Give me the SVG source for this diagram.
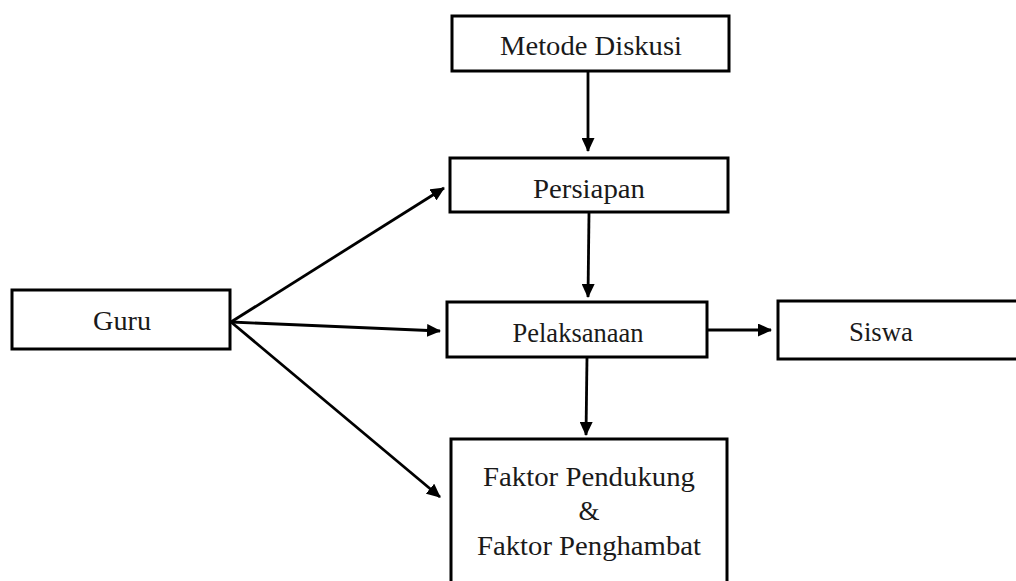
<svg xmlns="http://www.w3.org/2000/svg" width="1016" height="581" viewBox="0 0 1016 581">
<style>
.box{fill:#fff;stroke:#000;stroke-width:3}
text{font-family:'Liberation Serif','DejaVu Serif','Times New Roman',serif;font-size:27px;fill:#1a1a1a;text-anchor:middle}
.con{stroke:#000;stroke-width:2.8;fill:none;marker-end:url(#ah)}
</style>
<defs>
<marker id="ah" markerUnits="userSpaceOnUse" markerWidth="14" markerHeight="13" refX="13" refY="6.5" orient="auto">
<path d="M0,0 L14,6.5 L0,13 Z" fill="#000"/>
</marker>
</defs>
<rect width="1016" height="581" fill="#fff"/>
<g id="connectors">
<line class="con" x1="588" y1="71" x2="588" y2="151"/>
<line class="con" x1="589" y1="213" x2="588" y2="297"/>
<line class="con" x1="587" y1="357" x2="586" y2="435"/>
<line class="con" x1="707" y1="330" x2="771" y2="330"/>
<line class="con" x1="231" y1="322" x2="444" y2="188"/>
<line class="con" x1="231" y1="322" x2="440" y2="331"/>
<line class="con" x1="231" y1="322" x2="440" y2="497"/>
</g>
<g id="metode">
<rect class="box" x="452" y="16" width="277" height="55"/>
<text x="591" y="55" font-family="Liberation Serif, serif" textLength="182" lengthAdjust="spacingAndGlyphs">Metode Diskusi</text>
</g>
<g id="persiapan">
<rect class="box" x="450" y="158" width="278" height="54"/>
<text x="589" y="198" font-family="Liberation Serif, serif" textLength="112" lengthAdjust="spacingAndGlyphs">Persiapan</text>
</g>
<g id="guru">
<rect class="box" x="12" y="290" width="218" height="59"/>
<text x="122" y="330" font-family="Liberation Serif, serif" textLength="58" lengthAdjust="spacingAndGlyphs">Guru</text>
</g>
<g id="pelaksanaan">
<rect class="box" x="447" y="302" width="260" height="55"/>
<text x="578" y="342" font-family="Liberation Serif, serif" textLength="131" lengthAdjust="spacingAndGlyphs">Pelaksanaan</text>
</g>
<g id="siswa">
<rect class="box" x="778" y="301" width="250" height="58"/>
<text x="881" y="341" font-family="Liberation Serif, serif" textLength="64" lengthAdjust="spacingAndGlyphs">Siswa</text>
</g>
<g id="faktor">
<rect class="box" x="451" y="439" width="276" height="160"/>
<text x="589" y="486" font-family="Liberation Serif, serif" textLength="212" lengthAdjust="spacingAndGlyphs">Faktor Pendukung</text>
<text x="589" y="520" font-family="Liberation Serif, serif">&amp;</text>
<text x="589" y="555" font-family="Liberation Serif, serif" textLength="224" lengthAdjust="spacingAndGlyphs">Faktor Penghambat</text>
</g>
</svg>
